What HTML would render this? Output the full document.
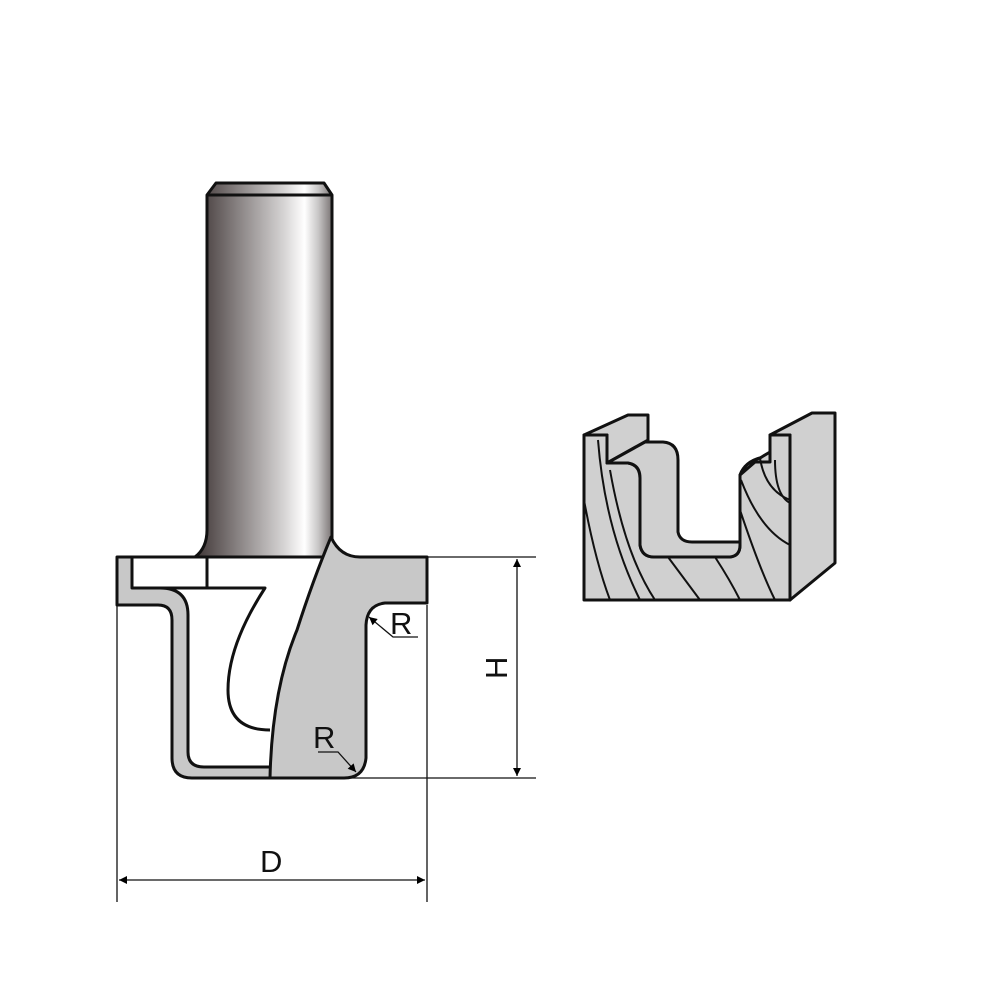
<!DOCTYPE html>
<html><head><style>html,body{margin:0;padding:0;background:#fff}svg{display:block}</style></head>
<body>
<svg width="1000" height="1000" viewBox="0 0 1000 1000" xmlns="http://www.w3.org/2000/svg">
<defs>
<linearGradient id="sh" x1="0" x2="1" y1="0" y2="0">
<stop offset="0" stop-color="#3e3535"/>
<stop offset="0.3" stop-color="#857f7f"/>
<stop offset="0.65" stop-color="#d6d4d4"/>
<stop offset="0.8" stop-color="#ffffff"/>
<stop offset="0.9" stop-color="#c8c6c6"/>
<stop offset="1" stop-color="#7a7474"/>
</linearGradient>
<marker id="ar" viewBox="0 0 10 10" refX="10" refY="5" markerWidth="12" markerHeight="8" orient="auto-start-reverse" markerUnits="userSpaceOnUse"><path d="M0,0 L10,5 L0,10 Z" fill="#000"/></marker>
</defs>
<g stroke="#111" stroke-width="3" stroke-linejoin="round" fill="none">
<!-- shank -->
<path d="M195,557 Q207,548 207,530 L207,195 L216,183 L324,183 L332,195 L332,557 Z" fill="url(#sh)"/>
<line x1="207" y1="195" x2="332" y2="195"/>
<!-- left gray outline -->
<path d="M117,557 L117,605 L158,605 Q172,605 172,620 L172,758 Q172,778 192,778 L272,778 L272,767 L204,767 Q188,767 188,752 L188,615 Q188,588 160,588 L132,588 L132,557 Z" fill="#c8c8c8"/>
<path d="M160,588 L265,588 Q228,645 228,690 Q228,730 270,730"/>
<line x1="207" y1="557" x2="207" y2="588"/>
<line x1="117" y1="557" x2="200" y2="557"/>
<!-- main blade -->
<path d="M331,537 Q340,557 360,557 L427,557 L427,603 L385,603 Q367,605 366,625 L366,758 Q364,778 344,778 L270,778 Q272,690 297,630 Q313,580 331,537 Z" fill="#c8c8c8"/>
</g>
<!-- dimension lines -->
<g stroke="#111" stroke-width="1.3" fill="none">
<line x1="427" y1="557" x2="536" y2="557"/>
<line x1="345" y1="778" x2="536" y2="778"/>
<line x1="517" y1="559" x2="517" y2="776" marker-start="url(#ar)" marker-end="url(#ar)"/>
<line x1="117" y1="605" x2="117" y2="902"/>
<line x1="427" y1="605" x2="427" y2="902"/>
<line x1="119" y1="880" x2="425" y2="880" marker-start="url(#ar)" marker-end="url(#ar)"/>
<path d="M418,637 L393,637 L369,617" marker-end="url(#ar)"/>
<path d="M318,752 L338,752 L356,772" marker-end="url(#ar)"/>
</g>
<g font-family="Liberation Sans, sans-serif" font-size="31" fill="#111">
<text x="390" y="634">R</text>
<text x="313" y="748">R</text>
<text x="260" y="872">D</text>
<text transform="translate(507,679) rotate(-90)">H</text>
</g>
<!-- wood block -->
<g stroke="#111" stroke-width="3" stroke-linejoin="round" fill="#d0d0d0">
<path d="M584,435 L628,415 L648,415 L648,440 L607,463 L607,435 Z"/>
<path d="M770,435 L812,413 L835,413 L835,563 L790,600 L790,435 Z"/>
<path d="M584,435 L607,435 L607,463 L628,463 Q640,465 640,478 L640,545 Q642,557 654,557 L730,557 Q740,556 740,545 L740,475 Q745,462 760,458 L770,455 L770,435 L790,435 L790,600 L584,600 Z"/>
<path d="M607,463 L645,442 L663,442 Q678,443 678,460 L678,532 Q680,542 692,542 L740,542 L740,545 Q740,556 730,557 L654,557 Q642,557 640,545 L640,478 Q640,465 628,463 Z"/>
<path d="M740,475 Q745,462 760,458 L770,452 L770,462 L755,462 Z"/>
</g>
<g stroke="#111" stroke-width="2" fill="none">
<path d="M584,500 Q595,560 610,600"/>
<path d="M598,440 Q605,530 640,600"/>
<path d="M610,470 Q625,555 655,600"/>
<path d="M668,557 Q685,580 700,600"/>
<path d="M715,557 Q730,580 740,600"/>
<path d="M740,510 Q760,570 775,600"/>
<path d="M741,480 Q760,530 790,545"/>
<path d="M760,458 Q765,490 790,500"/>
<path d="M775,460 Q775,495 790,503"/>
</g>
</svg>
</body></html>
